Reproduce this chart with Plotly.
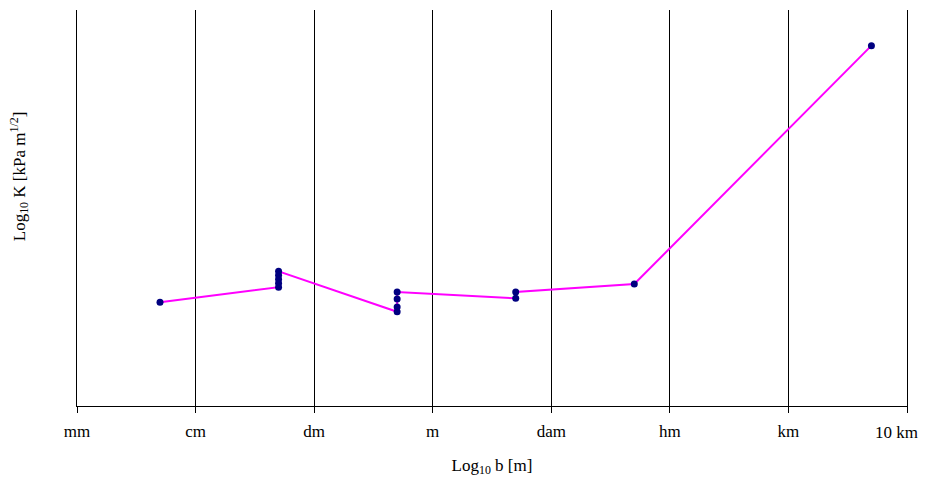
import plotly.graph_objects as go

# log10 of fracture size b [m]
log_b = [-2.3, -1.3, -1.3, -1.3, -1.3, -1.3, -0.3, -0.3, -0.3, -0.3, 0.7, 0.7, 1.7, 3.7]
# log10 K (arbitrary units)
log_k = [1.31, 1.50, 1.55, 1.60, 1.65, 1.70, 1.19, 1.25, 1.35, 1.44, 1.36, 1.44, 1.54, 4.55]

tick_vals = [-3, -2, -1, 0, 1, 2, 3, 4]
tick_text = ["mm", "cm", "dm", "m", "dam", "hm", "km", "10 km"]

serif = "Liberation Serif, Times New Roman, serif"

fig = go.Figure()
fig.add_trace(go.Scatter(
    x=log_b, y=log_k, mode="lines+markers",
    line=dict(color="#FF00FF", width=2),
    marker=dict(color="#000080", size=7, symbol="circle"),
    showlegend=False,
))

# the last label sits at the figure edge, so it is drawn as an annotation nudged left
axis_text = tick_text[:-1] + [""]

fig.update_layout(
    width=928, height=490,
    margin=dict(l=77, r=21, t=10, b=84),
    paper_bgcolor="white", plot_bgcolor="white",
    font=dict(family=serif, color="black", size=17),
    xaxis=dict(
        range=[-3, 4], tickvals=tick_vals, ticktext=axis_text,
        showgrid=True, gridcolor="black", gridwidth=1,
        showline=True, linecolor="black", linewidth=1,
        ticks="outside", ticklen=6, tickcolor="black",
        ticklabelstandoff=4, ticklabeloverflow="allow", automargin=False,
        zeroline=False, tickfont=dict(family=serif, size=17),
        title=dict(text="Log<sub>10</sub> b [m]", font=dict(family=serif, size=17), standoff=18),
    ),
    yaxis=dict(
        range=[0, 5], showgrid=False, showticklabels=False, ticks="",
        zeroline=False, showline=True, linecolor="black", linewidth=1, mirror=True,
        automargin=False,
    ),
    annotations=[
        dict(
            text="Log<sub>10</sub> K [kPa m<sup>1/2</sup>]",
            textangle=-90, xref="paper", yref="paper",
            x=-0.07, y=0.58, showarrow=False,
            font=dict(family=serif, size=17),
            xanchor="center", yanchor="middle",
        ),
        dict(
            text=tick_text[-1], xref="x", yref="paper",
            x=tick_vals[-1], y=0, xanchor="center", yanchor="top",
            xshift=-11, yshift=-15, showarrow=False,
            font=dict(family=serif, size=17),
        ),
    ],
)

fig.write_html(
    "out.html",
    config={"displayModeBar": False},
    post_script="document.body.style.margin='0';document.body.style.overflow='hidden';",
)
